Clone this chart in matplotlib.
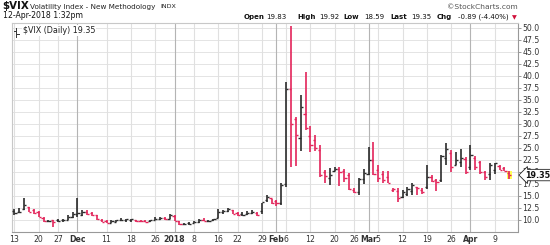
import matplotlib
matplotlib.use("Agg")
import matplotlib.pyplot as plt
from matplotlib.patches import Rectangle

plt.rcParams['font.family'] = ['DejaVu Sans']

# ---- data (trading-day index from 13-Nov-2017) ----
opens = [11.9, 11.7, 12.3, 12.6, 12.0, 11.6, 10.4, 9.8, 9.9, 9.9, 9.9, 10.1, 10.6, 11.3,
         11.0, 11.6, 11.5, 11.0, 10.1, 9.7, 9.4, 9.6, 9.9, 10.0, 10.0, 9.9, 9.8, 9.8, 9.7,
         10.1, 10.2, 10.5, 10.3, 10.9, 9.8, 9.2, 9.3, 9.4, 9.5, 10.1, 9.8, 9.9,
         10.5, 11.7, 11.8, 12.0, 11.5, 11.2, 11.2, 11.5, 11.5, 11.9, 14.2, 14.5, 13.9, 13.5,
         17.5, 37.3, 31.0, 27.0, 32.0, 27.5, 26.7, 24.5, 19.9, 18.8, 20.3, 20.6, 20.2, 19.3,
         16.2, 15.9, 18.5, 19.5, 22.5, 20.5, 19.6, 19.0, 16.3, 16.0, 14.8, 15.5, 16.0, 16.8,
         16.3, 16.8, 19.0, 18.3, 18.3, 23.0, 24.0, 21.5, 22.0, 22.6, 21.0, 22.8, 22.0, 20.0,
         19.5, 20.5, 21.3, 20.9, 19.8]
highs = [12.2, 12.4, 14.5, 12.7, 12.2, 11.9, 10.6, 10.1, 10.1, 10.2, 10.3, 11.0, 11.7, 14.6,
         12.1, 12.0, 11.7, 11.1, 10.2, 9.9, 9.9, 10.1, 10.4, 10.3, 10.3, 10.0, 10.0, 9.9, 10.0,
         10.6, 10.7, 10.6, 11.3, 11.0, 9.8, 9.4, 9.5, 9.8, 10.2, 10.5, 10.0, 10.2,
         12.2, 12.0, 12.4, 12.1, 11.7, 11.6, 11.9, 12.0, 11.6, 13.6, 15.1, 14.4, 14.1, 17.7,
         38.8, 50.3, 31.4, 36.1, 40.9, 29.6, 27.7, 25.6, 20.4, 20.8, 21.1, 21.0, 20.6, 19.7,
         16.6, 18.8, 20.6, 25.1, 26.2, 21.5, 20.1, 20.3, 16.6, 16.6, 16.2, 16.8, 17.6, 16.9,
         16.6, 21.5, 19.3, 18.5, 23.5, 26.0, 24.6, 24.2, 24.7, 23.2, 25.6, 23.4, 22.2, 20.1,
         21.9, 21.8, 21.5, 21.1, 20.1]
lows = [11.0, 11.4, 12.0, 11.7, 11.2, 10.6, 9.6, 9.5, 8.5, 9.6, 9.6, 9.9, 10.5, 10.6,
        10.8, 11.1, 10.9, 10.1, 9.5, 9.3, 9.3, 9.5, 9.7, 9.6, 9.6, 9.5, 9.5, 9.5, 9.5,
        10.0, 10.0, 10.0, 10.2, 9.7, 9.0, 8.9, 9.0, 9.3, 9.4, 9.8, 9.6, 9.7,
        10.5, 11.2, 11.6, 11.2, 10.9, 10.9, 11.0, 11.2, 10.9, 11.3, 13.7, 13.3, 12.9, 13.2,
        16.8, 21.0, 21.3, 24.3, 28.8, 24.2, 24.4, 19.0, 17.6, 17.3, 20.1, 17.0, 18.0, 16.3,
        15.6, 15.1, 17.5, 19.4, 19.4, 17.9, 17.7, 17.6, 15.9, 13.8, 14.6, 15.0, 15.3, 15.3,
        15.5, 16.4, 18.0, 16.1, 18.0, 21.5, 19.9, 21.5, 21.1, 19.6, 20.4, 20.4, 19.6, 18.3,
        18.3, 19.6, 20.4, 20.2, 18.6]
closes = [11.50, 11.59, 13.13, 11.76, 11.43, 10.65, 9.73, 9.88, 9.67, 9.87, 10.03, 10.70,
          11.28, 11.43, 11.68, 11.33, 11.02, 10.16, 9.58, 9.34, 9.72, 9.90, 10.10, 10.15,
          10.20, 9.75, 9.72, 9.62, 9.90, 10.25, 10.47, 10.18, 11.04, 9.77, 9.15, 9.22, 9.25,
          9.52, 10.08, 9.82, 9.88, 10.16, 11.66, 11.91, 12.22, 11.27, 11.03, 11.10, 11.47,
          11.58, 11.08, 13.84, 14.79, 13.54, 13.47, 17.31, 37.32, 29.98, 27.73, 33.46, 29.06,
          25.61, 24.97, 19.26, 19.13, 19.46, 20.60, 20.02, 18.72, 16.49, 15.80, 18.59, 19.85,
          22.47, 19.59, 18.73, 18.36, 17.76, 16.54, 14.64, 15.78, 16.35, 17.23, 16.59, 15.80,
          19.02, 18.20, 17.86, 23.34, 24.87, 21.03, 22.50, 22.87, 19.97, 23.62, 21.10, 20.06,
          18.94, 21.49, 21.77, 20.47, 20.24, 19.35]

tick_idx = [0, 5, 9, 13, 19, 24, 29, 33, 37, 42, 46, 51, 54, 56, 61, 66, 70, 73, 75, 80,
            85, 90, 94, 99]
tick_labels = ['13', '20', '27', 'Dec', '11', '18', '26', '2018', '8', '16', '22', '29',
               'Feb', '6', '12', '20', '26', 'Mar', '5', '12', '19', '26', 'Apr', '9']
bold_labels = {'Dec', '2018', 'Feb', 'Mar', 'Apr'}
y_ticks = [10.0, 12.5, 15.0, 17.5, 20.0, 22.5, 25.0, 27.5, 30.0, 32.5, 35.0, 37.5, 40.0,
           42.5, 45.0, 47.5, 50.0]

RED = '#e3245a'
BLACK = '#2b2b2b'

W, H = 550, 245
fig = plt.figure(figsize=(W / 100, H / 100), dpi=100)
ax = fig.add_axes([12 / W, 1 - 232 / H, (518 - 12) / W, (232 - 23) / H])

n = len(closes)
x = list(range(n))

# yellow highlight behind the last bar
ax.add_patch(Rectangle((n - 1 - 0.5, lows[-1] - 0.1), 1.0, highs[-1] - lows[-1] + 0.2,
                       facecolor='#ffff55', edgecolor='none', zorder=1))

cols = []
for i in range(n):
    if i == 0:
        cols.append(BLACK)
    else:
        cols.append(BLACK if closes[i] >= closes[i - 1] else RED)

ax.vlines(x, lows, highs, colors=cols, linewidth=1.2, zorder=3)
ax.hlines(opens, [i - 0.45 for i in x], x, colors=cols, linewidth=1.0, zorder=3)
ax.hlines(closes, x, [i + 0.45 for i in x], colors=cols, linewidth=1.0, zorder=3)

ax.set_xlim(-0.5, 103.8)
ax.set_ylim(7.5, 51.0)

# grid
for yv in y_ticks:
    ax.axhline(yv, color='#e4e4e4', linewidth=0.7, zorder=0)
for ti, lab in zip(tick_idx, tick_labels):
    c = '#b4b4b4' if lab in bold_labels else '#e0e0e0'
    ax.axvline(ti, color=c, linewidth=0.8, zorder=0)

ax.set_xticks(tick_idx)
ax.set_xticklabels(tick_labels, fontsize=5.6, color='#333333')
for t in ax.get_xticklabels():
    if t.get_text() in bold_labels:
        t.set_fontweight('bold')
ax.tick_params(axis='x', length=0, pad=2.5)

ax.yaxis.tick_right()
ax.set_yticks(y_ticks)
ax.set_yticklabels(['%.1f' % v for v in y_ticks], fontsize=5.6, color='#333333')
ax.tick_params(axis='y', length=2, width=0.6, color='#888888', pad=1)

for s in ['top', 'left']:
    ax.spines[s].set_color('#c8c8c8')
    ax.spines[s].set_linewidth(0.8)
ax.spines['right'].set_color('#999999')
ax.spines['right'].set_linewidth(0.8)
ax.spines['bottom'].set_color('#999999')
ax.spines['bottom'].set_linestyle((0, (1, 1)))
ax.spines['bottom'].set_linewidth(0.8)

# last price label
ax.annotate('%.2f' % closes[-1], xy=(1.0, closes[-1]), xycoords=('axes fraction', 'data'),
            xytext=(5, 0), textcoords='offset points', fontsize=5.8, fontweight='bold',
            va='center', ha='left', color='#111111',
            bbox=dict(boxstyle='larrow,pad=0.15', facecolor='white', edgecolor='#222222',
                      linewidth=0.6), annotation_clip=False, zorder=5)

# legend inside plot
ax.text(0.022, 0.985, '$VIX (Daily) %.2f' % closes[-1], transform=ax.transAxes,
        fontsize=5.8, va='top', ha='left', color='#222222',
        bbox=dict(facecolor='white', edgecolor='none', pad=0.6), zorder=6)
ax.plot([0.008, 0.008], [0.935, 0.975], transform=ax.transAxes, color='#333333',
        linewidth=0.7, zorder=7, clip_on=False)
ax.plot([0.003, 0.008], [0.96, 0.96], transform=ax.transAxes, color='#333333',
        linewidth=0.7, zorder=7, clip_on=False)
ax.plot([0.008, 0.013], [0.948, 0.948], transform=ax.transAxes, color='#333333',
        linewidth=0.7, zorder=7, clip_on=False)

# header
def ft(px, py, s, **kw):
    fig.text(px / W, 1 - py / H, s, va='center', **kw)

ft(2, 6, '$VIX', fontsize=7.4, fontweight='bold', color='#111111')
ft(30, 6.5, 'Volatility Index - New Methodology', fontsize=5.2, color='#222222')
ft(160, 6.5, 'INDX', fontsize=4.6, color='#222222')
ft(3, 15.5, '12-Apr-2018 1:32pm', fontsize=5.6, color='#111111')
ft(518, 7, '\u00a9StockCharts.com', fontsize=5.4, color='#555555', ha='right')

pieces = [(244, 'Open', True), (266, '19.83', False), (297, 'High', True),
          (319, '19.92', False), (343, 'Low', True), (364, '18.59', False),
          (390, 'Last', True), (411, '19.35', False), (437, 'Chg', True),
          (458, '-0.89 (-4.40%)', False)]
for px, s, b in pieces:
    ft(px, 17, s, fontsize=5.0, fontweight='bold' if b else 'normal', color='#111111')
ft(514, 17.5, '\u25bc', fontsize=4.5, color='#d0103a', ha='center')

fig.savefig('out.png', dpi=100)
